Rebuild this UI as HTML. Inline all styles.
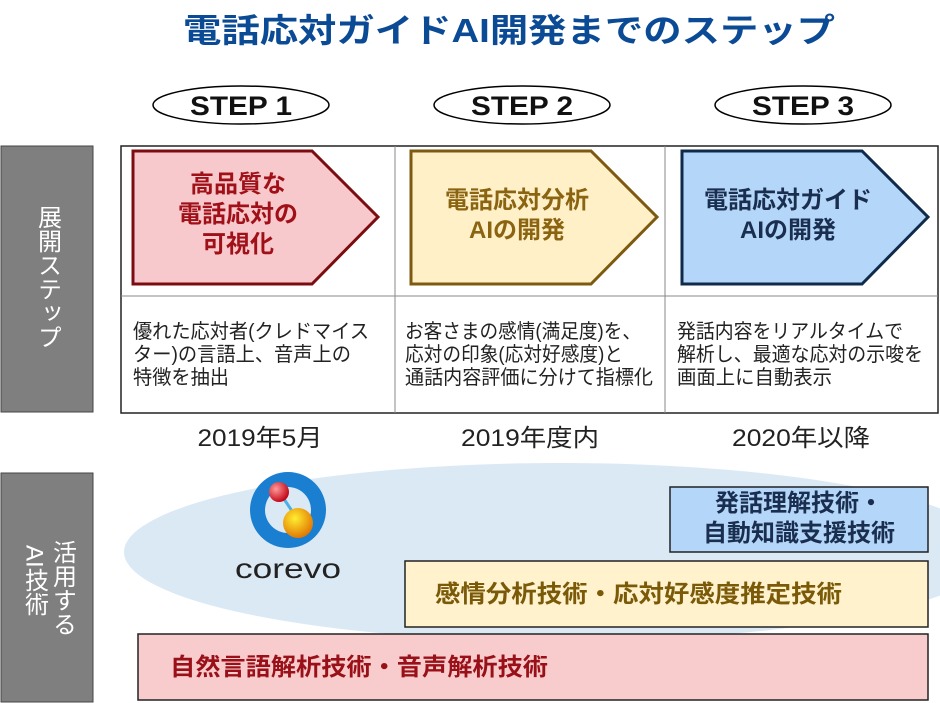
<!DOCTYPE html>
<html><head><meta charset="utf-8"><style>
html,body{margin:0;padding:0;background:#fff;}
svg{display:block;}
text{font-family:"Liberation Sans","Noto Sans CJK JP",sans-serif;}
</style></head><body>
<svg width="940" height="703" viewBox="0 0 940 703" xmlns="http://www.w3.org/2000/svg">
<defs>
<radialGradient id="rb" cx="0.35" cy="0.35" r="0.7"><stop offset="0" stop-color="#ff9a9a"/><stop offset="1" stop-color="#c00010"/></radialGradient>
<radialGradient id="ob" cx="0.4" cy="0.35" r="0.7"><stop offset="0" stop-color="#ffee30"/><stop offset="1" stop-color="#e07000"/></radialGradient>
</defs>
<text x="509" y="42" font-size="33" font-weight="bold" fill="#0b4a94" text-anchor="middle" textLength="652" lengthAdjust="spacingAndGlyphs">電話応対ガイドAI開発までのステップ</text>

<g stroke="#000" stroke-width="1.5" fill="#fff">
<ellipse cx="241" cy="105" rx="88" ry="19"/>
<ellipse cx="522" cy="105" rx="88" ry="19"/>
<ellipse cx="803" cy="105" rx="88" ry="19"/>
</g>
<g font-size="27" font-weight="bold" fill="#111" text-anchor="middle">
<text x="241" y="115" textLength="102" lengthAdjust="spacingAndGlyphs">STEP 1</text>
<text x="522" y="115" textLength="102" lengthAdjust="spacingAndGlyphs">STEP 2</text>
<text x="803" y="115" textLength="102" lengthAdjust="spacingAndGlyphs">STEP 3</text>
</g>

<rect x="1" y="146" width="92" height="266" fill="#7f7f7f" stroke="#444" stroke-width="1"/>
<rect x="1" y="473" width="92" height="229" fill="#7f7f7f" stroke="#444" stroke-width="1"/>
<text font-size="24" fill="#fff" style="writing-mode:vertical-rl" x="47" y="205">展開ステップ</text>
<text font-size="24" fill="#fff" style="writing-mode:vertical-rl" x="62" y="540">活用する</text>
<text font-size="24" fill="#fff" style="writing-mode:vertical-rl" x="34" y="545">AI技術</text>

<rect x="121" y="146" width="817" height="267" fill="#fff" stroke="#222" stroke-width="1.5"/>
<line x1="121" y1="296" x2="938" y2="296" stroke="#888" stroke-width="1"/>
<line x1="395" y1="146" x2="395" y2="413" stroke="#888" stroke-width="1"/>
<line x1="665" y1="146" x2="665" y2="413" stroke="#888" stroke-width="1"/>

<polygon points="133,151 312,151 378,217 312,284 133,284" fill="#f8c9cc" stroke="#7b0c10" stroke-width="3"/>
<polygon points="411,151 591,151 657,217 591,284 411,284" fill="#fff0c8" stroke="#7d5a10" stroke-width="3"/>
<polygon points="682,151 862,151 928,217 862,284 682,284" fill="#b4d6f8" stroke="#0f2a4a" stroke-width="3"/>
<g font-size="24" font-weight="bold" text-anchor="middle">
<text x="238" y="192" fill="#a01018">高品質な</text>
<text x="238" y="222" fill="#a01018">電話応対の</text>
<text x="238" y="252" fill="#a01018">可視化</text>
<text x="517" y="208" fill="#8a6410">電話応対分析</text>
<text x="517" y="238" fill="#8a6410">AIの開発</text>
<text x="788" y="208" fill="#1a2e50">電話応対ガイド</text>
<text x="788" y="238" fill="#1a2e50">AIの開発</text>
</g>
<g font-size="20" fill="#222">
<text x="133" y="338" textLength="236" lengthAdjust="spacingAndGlyphs">優れた応対者(クレドマイス</text>
<text x="133" y="361" textLength="218" lengthAdjust="spacingAndGlyphs">ター)の言語上、音声上の</text>
<text x="133" y="384" textLength="96" lengthAdjust="spacingAndGlyphs">特徴を抽出</text>
<text x="405" y="338" textLength="236" lengthAdjust="spacingAndGlyphs">お客さまの感情(満足度)を、</text>
<text x="405" y="361" textLength="218" lengthAdjust="spacingAndGlyphs">応対の印象(応対好感度)と</text>
<text x="405" y="384" textLength="248" lengthAdjust="spacingAndGlyphs">通話内容評価に分けて指標化</text>
<text x="677" y="338" textLength="226" lengthAdjust="spacingAndGlyphs">発話内容をリアルタイムで</text>
<text x="677" y="361" textLength="246" lengthAdjust="spacingAndGlyphs">解析し、最適な応対の示唆を</text>
<text x="677" y="384" textLength="155" lengthAdjust="spacingAndGlyphs">画面上に自動表示</text>
</g>
<g font-size="24" fill="#222" text-anchor="middle">
<text x="260" y="446" textLength="125" lengthAdjust="spacingAndGlyphs">2019年5月</text>
<text x="530" y="446" textLength="138" lengthAdjust="spacingAndGlyphs">2019年度内</text>
<text x="801" y="446" textLength="138" lengthAdjust="spacingAndGlyphs">2020年以降</text>
</g>

<ellipse cx="560" cy="552" rx="436" ry="89" fill="#dbe9f5"/>

<circle cx="288" cy="510" r="38" fill="#1a7fd0"/>
<circle cx="288" cy="510" r="23" fill="#dbe9f5"/>
<line x1="280" y1="493" x2="298" y2="520" stroke="#4ab0e8" stroke-width="3"/>
<circle cx="279" cy="492" r="10" fill="url(#rb)"/>
<circle cx="298" cy="523" r="15" fill="url(#ob)"/>
<text x="288" y="578" font-size="28" fill="#222" text-anchor="middle" textLength="106" lengthAdjust="spacingAndGlyphs">corevo</text>

<rect x="670" y="487" width="258" height="65" fill="#b4d6f8" stroke="#222" stroke-width="1.5"/>
<rect x="405" y="561" width="523" height="66" fill="#fff2cc" stroke="#222" stroke-width="1.5"/>
<rect x="138" y="634" width="790" height="66" fill="#f8cbcc" stroke="#222" stroke-width="1.5"/>
<g font-size="24" font-weight="bold">
<text x="799" y="511" fill="#1a2e50" text-anchor="middle">発話理解技術・</text>
<text x="799" y="541" fill="#1a2e50" text-anchor="middle">自動知識支援技術</text>
<text x="435" y="602" fill="#7a5a08" textLength="407" lengthAdjust="spacingAndGlyphs">感情分析技術・応対好感度推定技術</text>
<text x="170" y="675" fill="#9a1018" textLength="378" lengthAdjust="spacingAndGlyphs">自然言語解析技術・音声解析技術</text>
</g>
</svg>
</body></html>
